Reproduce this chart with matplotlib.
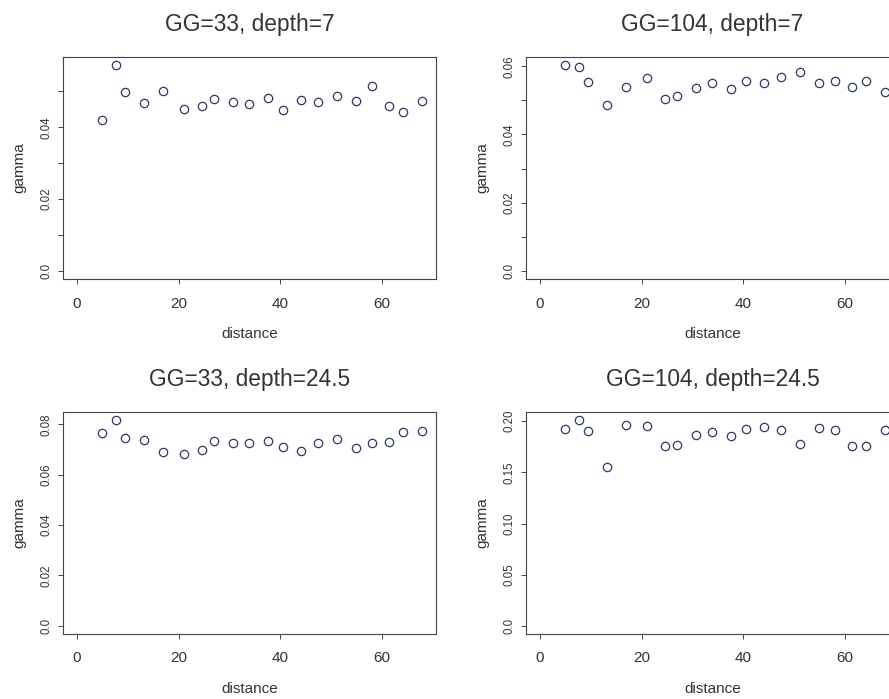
import matplotlib
matplotlib.use("Agg")
import matplotlib.pyplot as plt

plt.rcParams['font.family'] = ['Liberation Sans', 'DejaVu Sans']

# lag distances (shared by all panels)
distance = [5.0, 7.7, 9.4, 13.3, 16.9, 21.1, 24.6, 27.0, 30.7, 33.9,
            37.5, 40.5, 44.0, 47.5, 51.1, 54.9, 58.0, 61.4, 64.2, 67.9]

gamma_33_7 = [0.0419, 0.0573, 0.0497, 0.0467, 0.0500, 0.0451, 0.0459, 0.0480, 0.0470, 0.0465,
              0.0482, 0.0449, 0.0476, 0.0470, 0.0487, 0.0473, 0.0515, 0.0459, 0.0443, 0.0472]
gamma_104_7 = [0.0603, 0.0599, 0.0554, 0.0487, 0.0538, 0.0565, 0.0503, 0.0512, 0.0537, 0.0550,
               0.0532, 0.0558, 0.0550, 0.0567, 0.0583, 0.0550, 0.0556, 0.0538, 0.0556, 0.0523]
gamma_33_245 = [0.0766, 0.0817, 0.0748, 0.0738, 0.0690, 0.0683, 0.0699, 0.0735, 0.0728, 0.0728,
                0.0735, 0.0710, 0.0695, 0.0728, 0.0744, 0.0705, 0.0728, 0.0732, 0.0772, 0.0774]
gamma_104_245 = [0.1928, 0.2010, 0.1909, 0.1554, 0.1964, 0.1951, 0.1762, 0.1772, 0.1870, 0.1899,
                 0.1857, 0.1928, 0.1948, 0.1912, 0.1775, 0.1935, 0.1912, 0.1762, 0.1762, 0.1915]

titles = ["GG=33, depth=7", "GG=104, depth=7", "GG=33, depth=24.5", "GG=104, depth=24.5"]
series = [gamma_33_7, gamma_104_7, gamma_33_245, gamma_104_245]
x_ticks = [0, 20, 40, 60]
y_ticks = [[0, 0.01, 0.02, 0.03, 0.04, 0.05],
           [0, 0.01, 0.02, 0.03, 0.04, 0.05, 0.06],
           [0, 0.02, 0.04, 0.06, 0.08],
           [0, 0.05, 0.10, 0.15, 0.20]]
y_labels = [["0.0", "", "0.02", "", "0.04", ""],
            ["0.0", "", "0.02", "", "0.04", "", "0.06"],
            ["0.0", "0.02", "0.04", "0.06", "0.08"],
            ["0.0", "0.05", "0.10", "0.15", "0.20"]]

W, H = 889, 699
fig = plt.figure(figsize=(W / 100, H / 100), dpi=100)

# panel boxes in pixels: left, top (right column runs off the edge, as in the original)
boxes = [(63, 57), (526, 57), (63, 412), (526, 412)]
pw, ph = 373, 222

txt = '#333333'
for i in range(4):
    l, t = boxes[i]
    ax = fig.add_axes([l / W, 1 - (t + ph) / H, pw / W, ph / H])
    y = series[i]
    ax.plot(distance, y, 'o', mfc='none', mec='#2E3A66', ms=6, mew=0.9)
    # R style: 4% padding around 0..max
    xr = max(distance)
    ax.set_xlim(-0.04 * xr, 1.04 * xr)
    yr = max(y)
    ax.set_ylim(-0.04 * yr, 1.04 * yr)
    ax.set_xticks(x_ticks)
    ax.set_xticklabels([str(v) for v in x_ticks], fontsize=11, color=txt)
    ax.set_yticks(y_ticks[i])
    ax.set_yticklabels(y_labels[i], fontsize=8.3, color=txt, rotation=90, va='center')
    ax.tick_params(direction='out', length=3.6, width=0.7, color='#444444')
    ax.tick_params(axis='x', pad=9)
    ax.tick_params(axis='y', pad=4)
    for s in ax.spines.values():
        s.set_linewidth(0.8)
        s.set_color('#444444')
    ax.set_title(titles[i], fontsize=16.4, color=txt, pad=19)
    ax.set_xlabel("distance", fontsize=11, color=txt, labelpad=12)
    ax.set_ylabel("gamma", fontsize=11, color=txt, labelpad=10)

fig.savefig("out.png", dpi=100)
